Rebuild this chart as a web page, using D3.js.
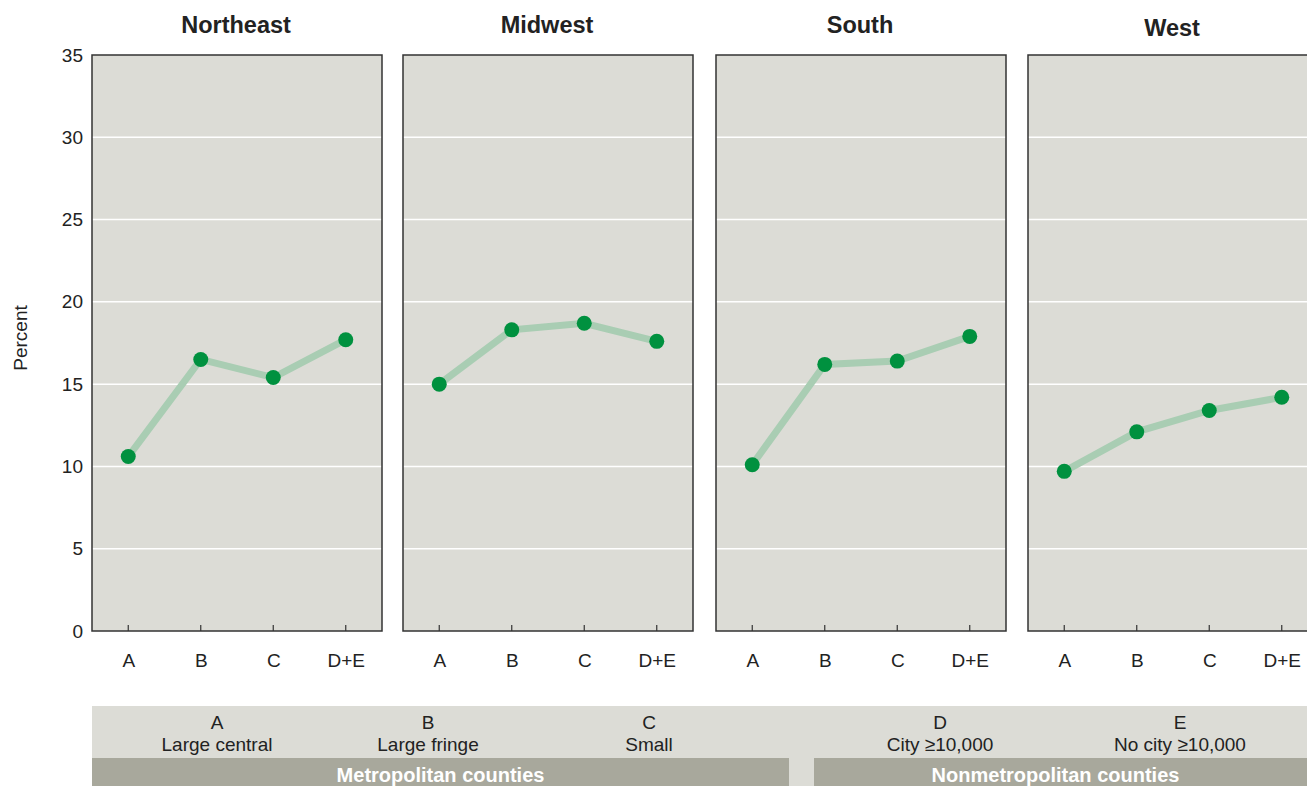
<!DOCTYPE html>
<html><head><meta charset="utf-8">
<script src="https://cdn.jsdelivr.net/npm/d3@7"></script>
<style>body{margin:0;background:#fff}svg{display:block;font-family:"Liberation Sans",Arial,sans-serif}</style>
</head><body><svg id="c" width="1307" height="786"></svg>
<script>
const regions = ["Northeast","Midwest","South","West"];
const categories = ["A","B","C","D+E"];
const northeast = [10.6, 16.5, 15.4, 17.7];
const midwest = [15.0, 18.3, 18.7, 17.6];
const south = [10.1, 16.2, 16.4, 17.9];
const west = [9.7, 12.1, 13.4, 14.2];
const yTicks = [0,5,10,15,20,25,30,35];
const legendCodes = ["A","B","C","D","E"];
const legendNames = ["Large central","Large fringe","Small","City \u226510,000","No city \u226510,000"];
const groupNames = ["Metropolitan counties","Nonmetropolitan counties"];

const series = [northeast, midwest, south, west];
const svg = d3.select("#c");
const panelX = [92, 403, 716, 1028];
const panelW = 290;
const pTop = 55, pBottom = 631;
const y = d3.scaleLinear().domain([0,35]).range([pBottom, pTop]);
const titleY = [25, 25, 25, 28];
const FF = "Liberation Sans, Arial, sans-serif";

// y axis
const yAxis = svg.append("g").attr("transform",`translate(${panelX[0]},0)`)
  .call(d3.axisLeft(y).tickValues(yTicks).tickSize(0).tickPadding(9));
yAxis.select(".domain").remove();
yAxis.selectAll("text").attr("font-size",19).attr("fill","#222").attr("font-family",FF);
svg.append("text").attr("transform",`translate(20,${(pTop+pBottom)/2 - 5}) rotate(-90)`)
  .attr("text-anchor","middle").attr("dy","0.35em").attr("font-size",19).attr("fill","#222").text("Percent");

regions.forEach((r,i)=>{
  const x = d3.scalePoint().domain(categories).range([panelX[i], panelX[i]+panelW]).padding(0.5);
  const g = svg.append("g");
  g.append("rect").attr("x",panelX[i]).attr("y",pTop).attr("width",panelW).attr("height",pBottom-pTop)
    .attr("fill","#dcdcd6");
  g.selectAll("line.grid").data(yTicks.filter(t=>t>0&&t<35)).join("line")
    .attr("x1",panelX[i]).attr("x2",panelX[i]+panelW).attr("y1",d=>y(d)).attr("y2",d=>y(d))
    .attr("stroke","#fff").attr("stroke-width",1.5);
  g.append("rect").attr("x",panelX[i]).attr("y",pTop).attr("width",panelW).attr("height",pBottom-pTop)
    .attr("fill","none").attr("stroke","#333").attr("stroke-width",1.5);
  // x axis
  const xa = g.append("g").attr("transform",`translate(0,${pBottom})`)
    .call(d3.axisBottom(x).tickSize(0).tickPadding(23));
  xa.select(".domain").remove();
  xa.selectAll("text").attr("font-size",19).attr("fill","#222").attr("font-family",FF);
  g.selectAll("line.tk").data(categories).join("line")
    .attr("x1",d=>x(d)).attr("x2",d=>x(d)).attr("y1",pBottom).attr("y2",pBottom-6)
    .attr("stroke","#333").attr("stroke-width",1.2);
  // title
  g.append("text").attr("x",panelX[i]+panelW/2 - 1).attr("y",titleY[i]).attr("dy","0.35em")
    .attr("text-anchor","middle").attr("font-size",23.5).attr("font-weight","bold").attr("fill","#222").text(r);
  // line + points
  const data = categories.map((c,j)=>({c, v: series[i][j]}));
  g.append("path").datum(data)
    .attr("d", d3.line().x(d=>x(d.c)).y(d=>y(d.v)))
    .attr("fill","none").attr("stroke","#a9cdb3").attr("stroke-width",7);
  g.selectAll("circle").data(data).join("circle")
    .attr("cx",d=>x(d.c)).attr("cy",d=>y(d.v)).attr("r",7.5).attr("fill","#00913f");
});

// legend bands
svg.append("rect").attr("x",92).attr("y",706).attr("width",1215).attr("height",80).attr("fill","#dcdcd6");
const bands = [[92,789],[814,1307]];
bands.forEach((b,i)=>{
  svg.append("rect").attr("x",b[0]).attr("y",758).attr("width",b[1]-b[0]).attr("height",28).attr("fill","#a8a89c");
  svg.append("text").attr("x",(b[0]+b[1])/2 - (i===1?5:0)).attr("y",775).attr("dy","0.35em")
    .attr("text-anchor","middle").attr("font-size",20).attr("font-weight","bold").attr("fill","#fff").text(groupNames[i]);
});
const legendX = [217, 428, 649, 940, 1180];
legendCodes.forEach((c,i)=>{
  svg.append("text").attr("x",legendX[i]).attr("y",729).attr("text-anchor","middle")
    .attr("font-size",19).attr("fill","#222").text(c);
  svg.append("text").attr("x",legendX[i]).attr("y",751).attr("text-anchor","middle")
    .attr("font-size",19).attr("fill","#222").text(legendNames[i]);
});
</script></body></html>
